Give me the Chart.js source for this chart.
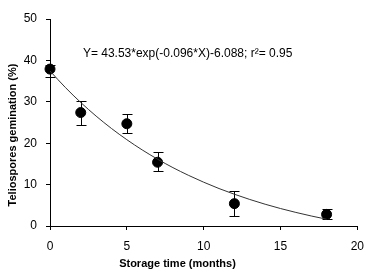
<!DOCTYPE html>
<html>
<head>
<meta charset="utf-8">
<script src="https://cdn.jsdelivr.net/npm/chart.js"></script>
<style>
  html, body { margin: 0; padding: 0; background: #fff; }
  #wrap { width: 373px; height: 272px; }
</style>
</head>
<body>
<div id="wrap"><canvas id="chart"></canvas></div>
<script>
// Measured means and error bar ends
const months = [0, 2, 5, 7, 12, 18];
const germination = [37.9, 27.4, 24.7, 15.4, 5.4, 2.8];
const errHigh = [38.8, 30.3, 27.0, 17.8, 8.5, 4.0];
const errLow = [35.9, 24.3, 22.4, 13.2, 2.5, 1.7];

// Fitted curve
const fitX = [0, 1, 2, 3, 4, 5, 6, 7, 8, 9, 10, 11, 12, 13, 14, 15, 16, 17, 18];
const fitY = [37.44, 33.46, 29.84, 26.55, 23.56, 20.85, 18.38, 16.14, 14.10, 12.26,
              10.58, 9.05, 7.67, 6.41, 5.26, 4.22, 3.28, 2.42, 1.64];

const xTicks = [0, 5, 10, 15, 20];
const yTicks = [0, 10, 20, 30, 40, 50];

const equationText = 'Y= 43.53*exp(-0.096*X)-6.088; r\u00b2= 0.95';
const xTitle = 'Storage time (months)';
const yTitle = 'Teliospores gemination (%)';

const FONT = '"Liberation Sans Narrow", "Arial Narrow", "Liberation Sans", Arial, sans-serif';

// error bars under the markers
const errorBars = {
    id: 'errorBars',
    beforeDatasetsDraw(chart) {
        const { ctx, scales: { x, y } } = chart;
        ctx.save();
        ctx.strokeStyle = '#000';
        ctx.lineWidth = 1;
        months.forEach((m, i) => {
            const px = Math.round(x.getPixelForValue(m)) + 0.5;
            const top = Math.round(y.getPixelForValue(errHigh[i])) + 0.5;
            const bot = Math.round(y.getPixelForValue(errLow[i])) + 0.5;
            ctx.beginPath();
            ctx.moveTo(px, top); ctx.lineTo(px, bot);
            ctx.moveTo(px - 5, top); ctx.lineTo(px + 5, top);
            ctx.moveTo(px - 5, bot); ctx.lineTo(px + 5, bot);
            ctx.stroke();
        });
        ctx.restore();
    }
};

// equation and axis titles
const labels = {
    id: 'labels',
    afterDraw(chart) {
        const { ctx, scales: { x, y } } = chart;
        ctx.save();
        ctx.fillStyle = '#000';
        ctx.textBaseline = 'middle';
        ctx.font = '12px ' + FONT;
        ctx.textAlign = 'left';
        ctx.fillText(equationText, x.getPixelForValue(2.14), y.getPixelForValue(41.6));

        ctx.font = 'bold 11px ' + FONT;
        ctx.textAlign = 'center';
        ctx.fillText(xTitle, 177.5, 264);

        ctx.translate(12.5, 135);
        ctx.rotate(-Math.PI / 2);
        ctx.fillText(yTitle, 0, 0);
        ctx.restore();
    }
};

new Chart(document.getElementById('chart'), {
    type: 'scatter',
    data: {
        datasets: [
            {
                type: 'line',
                data: fitX.map((v, i) => ({ x: v, y: fitY[i] })),
                borderColor: '#333',
                borderWidth: 1,
                pointRadius: 0,
                cubicInterpolationMode: 'monotone',
                fill: false,
                clip: false
            },
            {
                data: months.map((v, i) => ({ x: v, y: germination[i] })),
                backgroundColor: '#000',
                borderColor: '#000',
                pointRadius: 5,
                pointHoverRadius: 5,
                clip: false
            }
        ]
    },
    options: {
        responsive: true,
        maintainAspectRatio: false,
        animation: false,
        layout: { padding: { top: 19, right: 14, left: 0, bottom: 0 } },
        plugins: {
            legend: { display: false },
            tooltip: { enabled: false }
        },
        scales: {
            x: {
                type: 'linear',
                min: 0, max: 20,
                afterFit: s => { s.height = 46; },
                afterBuildTicks: s => { s.ticks = xTicks.map(v => ({ value: v })); },
                grid: { drawOnChartArea: false, drawTicks: true, tickLength: 4, color: '#000' },
                border: { color: '#000', width: 1 },
                ticks: { color: '#000', padding: 9, font: { family: FONT, size: 12 } }
            },
            y: {
                min: 0, max: 50,
                afterFit: s => { s.width = 50; },
                afterBuildTicks: s => { s.ticks = yTicks.map(v => ({ value: v })); },
                grid: { drawOnChartArea: false, drawTicks: true, tickLength: 4, color: '#000' },
                border: { color: '#000', width: 1 },
                ticks: { color: '#000', padding: 9, font: { family: FONT, size: 12 } }
            }
        }
    },
    plugins: [errorBars, labels]
});
</script>
</body>
</html>
